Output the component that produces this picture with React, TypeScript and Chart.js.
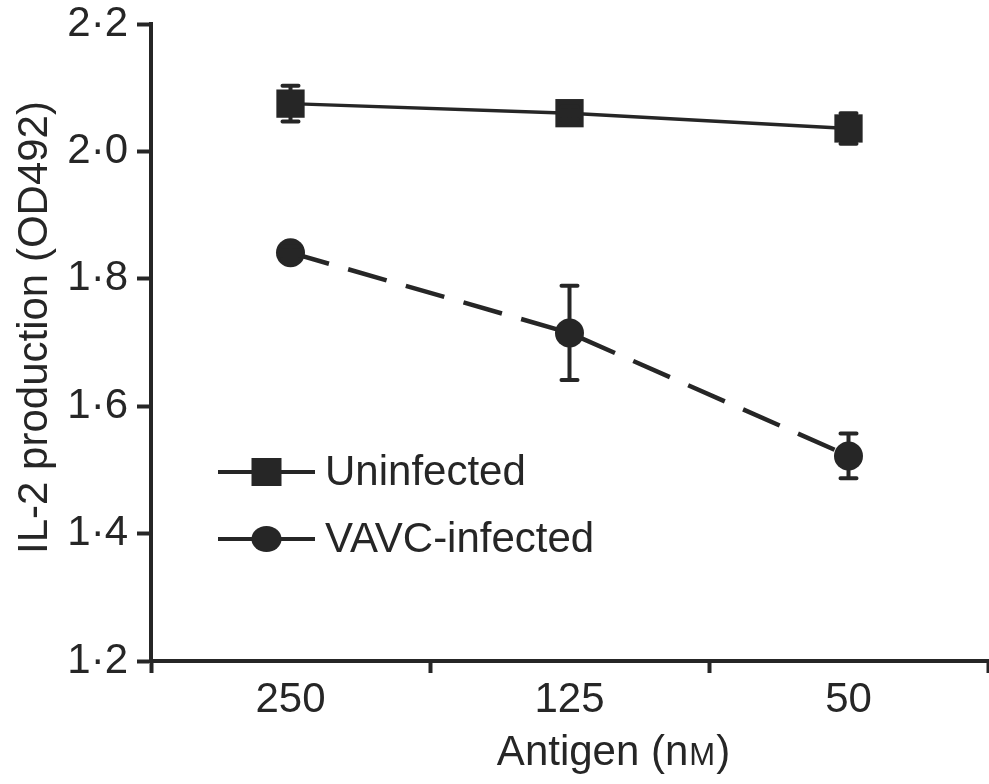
import React, { useEffect, useRef } from 'react';
import { Chart, registerables } from 'chart.js';

Chart.register(...registerables);

// Antigen concentrations (nM) along the x axis
const categories = ['250', '125', '50'];

// IL-2 production (OD492), mean and error
const uninfected = [2.075, 2.06, 2.036];
const uninfectedErr = [0.028, 0.01, 0.024];
const vavcInfected = [1.841, 1.715, 1.522];
const vavcInfectedErr = [0.01, 0.074, 0.035];

// y axis range
const yMin = 1.2;
const yMax = 2.2;
const yStep = 0.2;

const seriesLabels = ['Uninfected', 'VAVC-infected'];
const yTitle = 'IL-2 production (OD492)';
const xTitleMain = 'Antigen (n';
const xTitleUnit = 'M';
const xTitleClose = ')';

const INK = '#262626';
const FONT = "'Liberation Sans', Arial, Helvetica, sans-serif";

// Vertical error bars with caps, from each dataset's `errors` array
const errorBarPlugin = {
  id: 'errorBars',
  afterDatasetsDraw(chart: any) {
    const { ctx } = chart;
    const yScale = chart.scales.y;
    chart.data.datasets.forEach((ds: any, i: number) => {
      const meta = chart.getDatasetMeta(i);
      if (!ds.errors) return;
      meta.data.forEach((pt: any, j: number) => {
        const v = ds.data[j];
        const e = ds.errors[j];
        const yTop = yScale.getPixelForValue(v + e);
        const yBot = yScale.getPixelForValue(v - e);
        const x = pt.x;
        ctx.save();
        ctx.strokeStyle = INK;
        ctx.lineWidth = 4;
        ctx.lineCap = 'round';
        ctx.beginPath();
        ctx.moveTo(x, yTop);
        ctx.lineTo(x, yBot);
        ctx.moveTo(x - 8, yTop);
        ctx.lineTo(x + 8, yTop);
        ctx.moveTo(x - 8, yBot);
        ctx.lineTo(x + 8, yBot);
        ctx.stroke();
        ctx.restore();
      });
    });
  },
};

// Legend inside the plot: short line with the series marker, then the label
const insideLegendPlugin = {
  id: 'insideLegend',
  afterDraw(chart: any) {
    const { ctx, chartArea } = chart;
    const x0 = chartArea.left + 67;
    const x1 = chartArea.left + 164;
    const rows = [chartArea.top + 448, chartArea.top + 515];
    chart.data.datasets.forEach((ds: any, i: number) => {
      const y = rows[i];
      ctx.save();
      ctx.strokeStyle = INK;
      ctx.fillStyle = INK;
      ctx.lineWidth = 4;
      ctx.setLineDash(ds.borderDash || []);
      ctx.beginPath();
      ctx.moveTo(x0, y);
      ctx.lineTo(x1, y);
      ctx.stroke();
      ctx.setLineDash([]);
      const cx = (x0 + x1) / 2;
      if (ds.pointStyle === 'rect') {
        ctx.fillRect(cx - 15, y - 14, 30, 28);
      } else {
        ctx.beginPath();
        ctx.ellipse(cx, y, 15, 13, 0, 0, Math.PI * 2);
        ctx.fill();
      }
      ctx.font = `42px ${FONT}`;
      ctx.textBaseline = 'middle';
      ctx.textAlign = 'left';
      ctx.fillText(ds.label, x1 + 10, y + 1);
      ctx.restore();
    });
  },
};

// Axis titles; the unit's M is set as a small capital
const axisTitlesPlugin = {
  id: 'axisTitles',
  afterDraw(chart: any) {
    const { ctx, chartArea } = chart;
    ctx.save();
    ctx.fillStyle = INK;
    ctx.textBaseline = 'alphabetic';

    // x title
    const big = `42px ${FONT}`;
    const small = `31px ${FONT}`;
    ctx.font = big;
    const w1 = ctx.measureText(xTitleMain).width;
    const w3 = ctx.measureText(xTitleClose).width;
    ctx.font = small;
    const w2 = ctx.measureText(xTitleUnit).width;
    const total = w1 + w2 + w3 + 2;
    const cx = (chartArea.left + chartArea.right) / 2 + 44;
    let x = cx - total / 2;
    const yb = chartArea.bottom + 104;
    ctx.textAlign = 'left';
    ctx.font = big;
    ctx.fillText(xTitleMain, x, yb);
    x += w1 + 1;
    ctx.font = small;
    ctx.fillText(xTitleUnit, x, yb);
    x += w2 + 1;
    ctx.font = big;
    ctx.fillText(xTitleClose, x, yb);

    // y title, rotated
    ctx.translate(47, (chartArea.top + chartArea.bottom) / 2 - 15);
    ctx.rotate(-Math.PI / 2);
    ctx.textAlign = 'center';
    ctx.font = `42px ${FONT}`;
    ctx.fillText(yTitle, 0, 0);
    ctx.restore();
  },
};

export default function App() {
  const canvasRef = useRef<HTMLCanvasElement>(null);

  useEffect(() => {
    const canvas = canvasRef.current;
    if (!canvas) return;
    const chart = new Chart(canvas, {
      type: 'line',
      data: {
        labels: categories,
        datasets: [
          {
            label: seriesLabels[0],
            data: uninfected,
            errors: uninfectedErr,
            borderColor: INK,
            backgroundColor: INK,
            borderWidth: 3.5,
            pointStyle: 'rect',
            pointRadius: 20,
            pointBorderWidth: 0,
            pointBackgroundColor: INK,
            tension: 0,
          } as any,
          {
            label: seriesLabels[1],
            data: vavcInfected,
            errors: vavcInfectedErr,
            borderColor: INK,
            backgroundColor: INK,
            borderWidth: 4.5,
            borderDash: [40, 20],
            pointStyle: 'circle',
            pointRadius: 14.5,
            pointBorderWidth: 0,
            pointBackgroundColor: INK,
            tension: 0,
          } as any,
        ],
      },
      options: {
        animation: false,
        responsive: false,
        devicePixelRatio: 1,
        layout: { autoPadding: false, padding: { top: 24, right: 1, left: 0, bottom: 0 } },
        plugins: {
          legend: { display: false },
          tooltip: { enabled: false },
        },
        events: [],
        scales: {
          x: {
            type: 'category',
            offset: true,
            afterFit(scale: any) {
              scale.height = 123;
              scale.paddingLeft = 0;
              scale.paddingRight = 0;
            },
            grid: {
              offset: true,
              drawOnChartArea: false,
              drawTicks: true,
              tickLength: 12,
              tickWidth: 4,
              tickColor: INK,
              color: INK,
            },
            border: { display: true, color: INK, width: 4 },
            ticks: {
              color: INK,
              padding: 2,
              font: { family: FONT, size: 42 },
            },
          },
          y: {
            min: yMin,
            max: yMax,
            afterFit(scale: any) {
              scale.width = 151;
              scale.paddingTop = 0;
              scale.paddingBottom = 0;
            },
            grid: {
              drawOnChartArea: false,
              drawTicks: true,
              tickLength: 14,
              tickWidth: 4,
              tickColor: INK,
              color: INK,
            },
            border: { display: true, color: INK, width: 4 },
            ticks: {
              stepSize: yStep,
              color: INK,
              padding: 9,
              font: { family: FONT, size: 42 },
              callback: (v: any) => Number(v).toFixed(1).replace('.', '\u00B7'),
            },
          },
        },
      },
      plugins: [errorBarPlugin, insideLegendPlugin, axisTitlesPlugin],
    });
    return () => chart.destroy();
  }, []);

  return (
    <div
      style={{
        position: 'fixed',
        left: 0,
        top: 0,
        width: 989,
        height: 784,
        background: '#ffffff',
      }}
    >
      <canvas
        ref={canvasRef}
        width={989}
        height={784}
        style={{ display: 'block', width: 989, height: 784 }}
      />
    </div>
  );
}
